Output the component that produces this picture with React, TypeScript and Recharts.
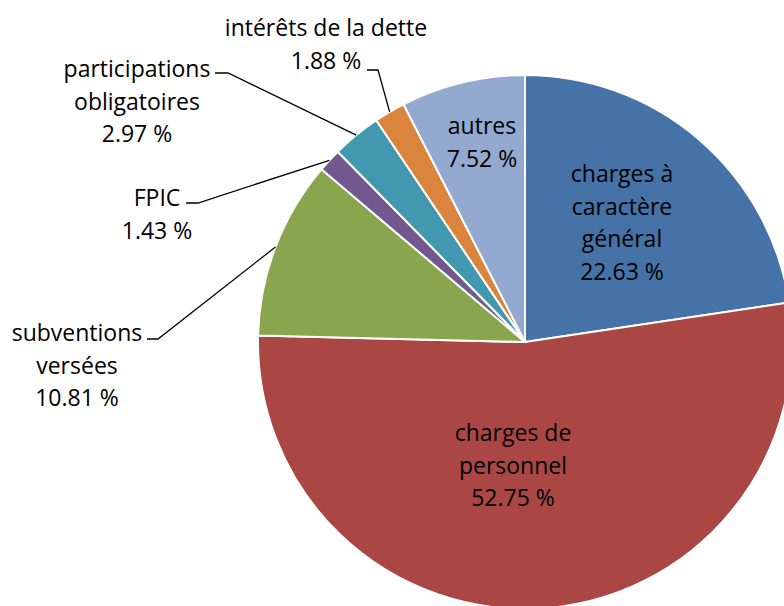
import React from "react";
import { PieChart, Pie, Cell } from "recharts";

const categories = [
  "charges à caractère général",
  "charges de personnel",
  "subventions versées",
  "FPIC",
  "participations obligatoires",
  "intérêts de la dette",
  "autres",
];
const shares = [22.63, 52.75, 10.81, 1.43, 2.97, 1.88, 7.52];
const labelLines = [
  ["charges à", "caractère", "général"],
  ["charges de", "personnel"],
  ["subventions", "versées"],
  ["FPIC"],
  ["participations", "obligatoires"],
  ["intérêts de la dette"],
  ["autres"],
];
const colors = ["#4572A7", "#AA4643", "#89A54E", "#71588F", "#4198AF", "#DB843D", "#93A9CF"];

// label placement relative to pie centre: text block (first line centre) and optional leader
const layout = [
  { tx: 97, ty: -169 },
  { tx: -12, ty: 90 },
  { tx: -448, ty: -10, ex: -367, ey: -3, hx: -378 },
  { tx: -368, ty: -145, ex: -327, ey: -139, hx: -339 },
  { tx: -388, ty: -274, ex: -297, ey: -269, hx: -310 },
  { tx: -199, ty: -315, ex: -147, ey: -272, hx: -158 },
  { tx: -43, ty: -217 },
];

const data = categories.map((name, i) => ({ name, value: shares[i] }));

const RADIAN = Math.PI / 180;
const LINE = 32.5;

const renderLabel = (props: any) => {
  const { cx, cy, midAngle, outerRadius, index, value } = props;
  const l = layout[index];
  const lines = [...labelLines[index], value.toFixed(2) + " %"];
  let leader = null;
  if (l.ex !== undefined) {
    const sx = cx + outerRadius * Math.cos(-midAngle * RADIAN);
    const sy = cy + outerRadius * Math.sin(-midAngle * RADIAN);
    leader = (
      <polyline
        points={`${sx},${sy} ${cx + l.ex},${cy + l.ey} ${cx + l.hx},${cy + l.ey}`}
        fill="none"
        stroke="#000"
        strokeWidth={1.3}
      />
    );
  }
  return (
    <g key={`lbl-${index}`}>
      {leader}
      {lines.map((t, k) => (
        <text
          key={k}
          x={cx + l.tx}
          y={cy + l.ty + k * LINE}
          textAnchor="middle"
          dominantBaseline="central"
          fill="#000"
          fontSize={23}
          fontFamily="'Open Sans', sans-serif"
        >
          {t}
        </text>
      ))}
    </g>
  );
};

export default function App() {
  return (
    <div style={{ position: "absolute", left: 0, top: 0, width: 784, height: 606, background: "#fff" }}>
      <PieChart width={784} height={606} margin={{ top: 0, right: 0, bottom: 0, left: 0 }}>
        <Pie
          data={data}
          dataKey="value"
          nameKey="name"
          cx={525}
          cy={342}
          outerRadius={267}
          startAngle={90}
          endAngle={-270}
          stroke="#fff"
          strokeWidth={2}
          label={renderLabel}
          labelLine={false}
          isAnimationActive={false}
        >
          {data.map((d, i) => (
            <Cell key={d.name} fill={colors[i]} />
          ))}
        </Pie>
      </PieChart>
    </div>
  );
}
